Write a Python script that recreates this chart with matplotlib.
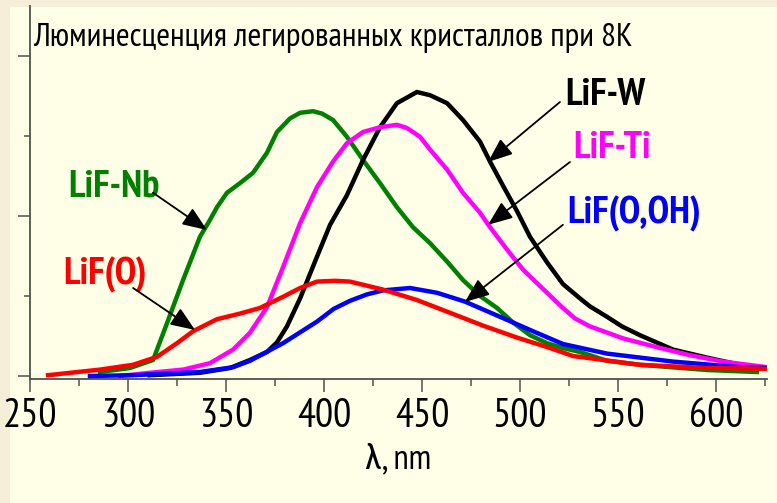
import matplotlib.pyplot as plt
from matplotlib.patches import Rectangle
from matplotlib.ticker import MultipleLocator

# wavelength (nm) and intensity (arb. units)
nb_wl = [285.7, 301, 312.8, 319.9, 328.1, 336.7, 341.8, 345.4, 350.5, 357.1, 363.8, 370.9,
         376, 382.7, 387.8, 394.4, 399, 404.6, 411.7, 419.9, 428.6, 437.2, 445.4, 454.1, 462.8,
         470.9, 479.6, 488.3, 496.4, 505.1, 513.8, 521.9, 530.6, 544.4, 561.2, 595.4, 620.9]
nb_int = [0.05, 0.1, 0.2, 0.66, 1.2, 1.74, 1.95, 2.11, 2.29, 2.41, 2.54, 2.79,
          3.05, 3.22, 3.29, 3.31, 3.28, 3.2, 2.99, 2.7, 2.41, 2.11, 1.86, 1.66, 1.43,
          1.2, 1.0, 0.85, 0.67, 0.51, 0.41, 0.35, 0.3, 0.19, 0.14, 0.075, 0.05]

w_wl = [311, 336.7, 352, 362.2, 370.9, 376, 381.1, 387.8, 396.4, 403.1, 411.7, 419.9, 428.6,
        437.2, 447.4, 454.1, 462.8, 470.9, 479.6, 484.7, 491.3, 498.5, 505.1, 513.8, 521.9,
        530.6, 535.7, 544.4, 552, 561.2, 578.1, 595.4, 612.2, 626]
w_int = [0.01, 0.04, 0.1, 0.2, 0.3, 0.42, 0.62, 0.97, 1.49, 1.89, 2.26, 2.7, 3.11,
         3.41, 3.55, 3.51, 3.41, 3.2, 2.93, 2.68, 2.38, 2.06, 1.74, 1.42, 1.15,
         0.97, 0.87, 0.74, 0.62, 0.51, 0.33, 0.23, 0.14, 0.1]

ti_wl = [295.9, 311.2, 328.1, 341.8, 353.6, 362.2, 370.9, 379.1, 387.8, 396.4, 404.6, 411.7,
         419.9, 428.6, 437.2, 442.3, 449, 454.1, 462.8, 470.9, 479.6, 484.7, 493.4, 501.5,
         513.8, 521.9, 528, 535.7, 552.6, 569.9, 586.7, 603.6, 626]
ti_int = [0.0, 0.04, 0.08, 0.16, 0.33, 0.54, 0.86, 1.36, 1.91, 2.36, 2.68, 2.91,
          3.05, 3.11, 3.14, 3.1, 2.99, 2.83, 2.58, 2.29, 2.04, 1.86, 1.58, 1.33,
          1.04, 0.85, 0.72, 0.62, 0.47, 0.36, 0.26, 0.18, 0.11]

ooh_wl = [280.6, 302.6, 336.7, 353.6, 362.2, 379.1, 396.4, 405, 413.3, 421.9, 430.1, 443.9,
          457.7, 471.9, 489.8, 506.6, 521.9, 544.4, 578.1, 612.2, 626]
ooh_int = [0.0, 0.01, 0.05, 0.11, 0.19, 0.41, 0.68, 0.84, 0.94, 1.02, 1.07, 1.1,
           1.04, 0.93, 0.74, 0.56, 0.4, 0.28, 0.18, 0.11, 0.1]

o_wl = [259.2, 285.7, 302.6, 314.8, 325, 333.2, 345.4, 357.1, 367.3, 379.1, 387.8, 396.4,
        405.6, 413.3, 430.1, 447.4, 464.3, 481.1, 498.5, 515.3, 527, 561.2, 595.4, 626]
o_int = [0.01, 0.08, 0.14, 0.24, 0.41, 0.56, 0.71, 0.78, 0.85, 0.99, 1.1, 1.18,
         1.19, 1.18, 1.08, 0.95, 0.79, 0.63, 0.48, 0.35, 0.25, 0.14, 0.1, 0.09]

title = 'Люминесценция легированных кристаллов при 8K'

plt.rcParams['font.family'] = ['PT Sans Narrow', 'Roboto Condensed', 'Archivo Narrow',
                               'Liberation Sans', 'DejaVu Sans']

W, H = 777, 503
fig = plt.figure(figsize=(W / 100, H / 100), dpi=100)
fig.patch.set_facecolor('#F7EEDA')
fig.patches.append(Rectangle((10 / W, 0), 1, (H - 7) / H, transform=fig.transFigure,
                             facecolor='#FFFFE7', edgecolor='none', zorder=0))

ax = fig.add_axes([30 / W, (H - 379) / H, 737 / W, 373 / H])
ax.set_zorder(2)
ax.set_facecolor('none')
ax.set_xlim(250, 250 + 737 / 1.96)
ax.set_ylim(-3 / 80, 370 / 80)

lw = 3.2
ax.plot(nb_wl, nb_int, color='#008000', lw=lw, zorder=2)
ax.plot(w_wl, w_int, color='black', lw=lw, zorder=3)
ax.plot(ti_wl, ti_int, color='#FF00FF', lw=lw, zorder=4)
ax.plot(ooh_wl, ooh_int, color='#0000FF', lw=lw, zorder=5)
ax.plot(o_wl, o_int, color='#FF0000', lw=lw, zorder=6)

for s in ['top', 'right']:
    ax.spines[s].set_visible(False)
for s in ['left', 'bottom']:
    ax.spines[s].set_color('#505050')
    ax.spines[s].set_linewidth(1.3)

ax.xaxis.set_major_locator(MultipleLocator(50))
ax.xaxis.set_minor_locator(MultipleLocator(25))
ax.yaxis.set_major_locator(MultipleLocator(2))
ax.yaxis.set_minor_locator(MultipleLocator(1))
ax.tick_params(axis='x', which='major', length=9.5, width=1.1, color='#505050',
               labelsize=29, pad=4)
ax.tick_params(axis='x', which='minor', length=5, width=1.1, color='#505050')
ax.tick_params(axis='y', which='major', length=8.6, width=1.1, color='#505050', labelleft=False)
ax.tick_params(axis='y', which='minor', length=4.3, width=1.1, color='#505050')

ax.set_xlabel('λ, nm', fontsize=25, labelpad=6)

fig.text(33 / W, (H - 46) / H, title, fontsize=24, va='baseline', ha='left', zorder=5)

labels = [('LiF-W', 523, 3.39, 'black', 520.4, 3.425, 483.7, 2.675),
          ('LiF-Ti', 527, 2.725, '#FF00FF', 525.5, 2.675, 483.7, 1.89),
          ('LiF(O,OH)', 524, 1.91, '#0000FF', 521.9, 1.89, 471.9, 0.925),
          ('LiF-Nb', 269.4, 2.24, '#008000', 312.8, 2.29, 340.3, 1.825),
          ('LiF(O)', 266.8, 1.15, '#FF0000', 302.6, 1.1, 334.2, 0.575)]
for txt, lx, ly, c, ax0, ay0, ax1, ay1 in labels:
    ax.text(lx, ly, txt, color=c, fontsize=28, fontweight='bold', ha='left', va='baseline', zorder=8)
    ax.annotate('', xy=(ax1, ay1), xytext=(ax0, ay0),
                arrowprops=dict(arrowstyle='-|>,head_length=1.0,head_width=0.4',
                                color='black', lw=1.3, shrinkA=0, shrinkB=0, mutation_scale=15),
                zorder=9)

fig.savefig('out.png', dpi=100, facecolor=fig.get_facecolor())
